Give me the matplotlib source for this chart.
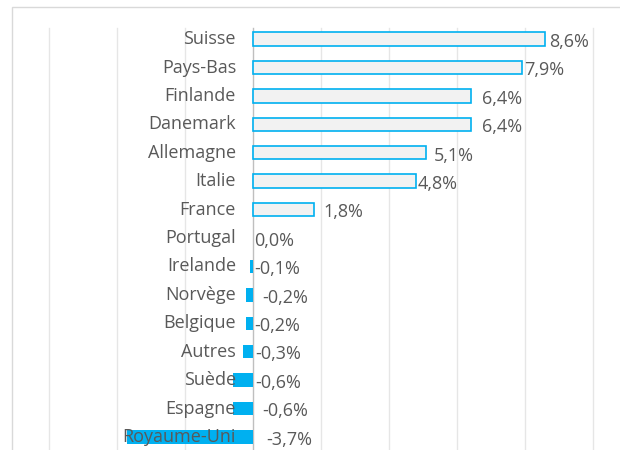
import matplotlib
matplotlib.use("Agg")
import matplotlib.pyplot as plt
from matplotlib.patches import Rectangle

# Croissance par pays (en %)
pays = ["Suisse", "Pays-Bas", "Finlande", "Danemark", "Allemagne", "Italie", "France",
        "Portugal", "Irelande", "Norvège", "Belgique", "Autres", "Suède", "Espagne",
        "Royaume-Uni"]
valeurs = [8.6, 7.9, 6.4, 6.4, 5.1, 4.8, 1.8, 0.0, -0.1, -0.2, -0.2, -0.3, -0.6, -0.6, -3.7]
etiquettes = ["8,6%", "7,9%", "6,4%", "6,4%", "5,1%", "4,8%", "1,8%", "0,0%", "-0,1%",
              "-0,2%", "-0,2%", "-0,3%", "-0,6%", "-0,6%", "-3,7%"]
# petit décalage (px) des étiquettes de valeur
decalage = [4, 3, 11, 11, 7, 1, 9, 1, 1, 9, 1, 2, 2, 9, 13]

BLEU = "#00B0F0"
GRIS_TXT = "#595959"

plt.rcParams["font.family"] = ["Open Sans", "DejaVu Sans"]

fig = plt.figure(figsize=(6.2, 4.5), dpi=100)
fig.patch.set_facecolor("white")

# cadre du graphique
fig.patches.append(Rectangle((12 / 620, -0.1), 1.0, (450 - 7) / 450 + 0.1,
                             transform=fig.transFigure, fill=False,
                             edgecolor="#D9D9D9", linewidth=1.0))

ax = fig.add_axes([49 / 620, 0, (593 - 49) / 620, (450 - 28) / 450])
ax.set_facecolor("none")

y = list(range(len(pays)))
for yi, v in zip(y, valeurs):
    if v > 0:
        ax.barh(yi, v, height=0.47, color="#F2F2F2", edgecolor=BLEU, linewidth=1.2, zorder=3)
    elif v < 0:
        ax.barh(yi, v, height=0.47, color=BLEU, edgecolor=BLEU, linewidth=0, zorder=3)

for yi, v, lab, d in zip(y, valeurs, etiquettes, decalage):
    ax.annotate(lab, xy=(max(v, 0), yi), xytext=(d * 0.72, -2),
                textcoords="offset points", ha="left", va="center",
                fontsize=13, color=GRIS_TXT, zorder=4)
    ax.text(-0.5, yi, pays[yi], ha="right", va="center",
            fontsize=13, color=GRIS_TXT, zorder=4)

ax.set_xlim(-6, 10)
ax.set_ylim(14.46, -0.39)
for gx in range(-6, 11, 2):
    ax.axvline(gx, color="#BFBFBF" if gx == 0 else "#E6E6E6", linewidth=1.0, zorder=1,
               clip_on=False)

ax.set_xticks([])
ax.set_yticks([])
for s in ax.spines.values():
    s.set_visible(False)

fig.savefig("out.png", dpi=100)
